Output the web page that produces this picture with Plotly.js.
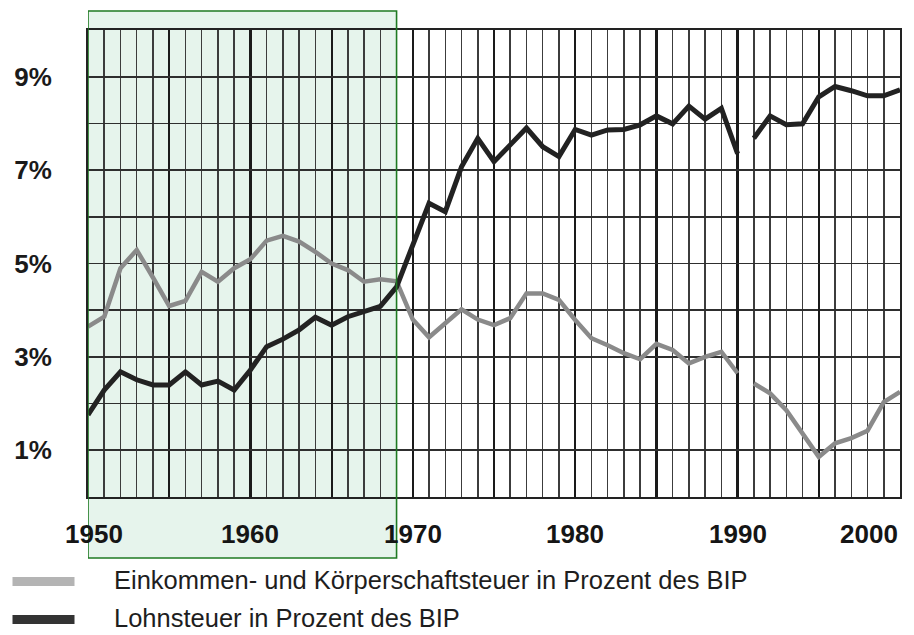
<!DOCTYPE html>
<html>
<head>
<meta charset="utf-8">
<script src="https://cdn.plot.ly/plotly-3.0.1.min.js"></script>
<style>
  html, body { margin: 0; padding: 0; background: #ffffff; }
  #chart { width: 914px; height: 635px; }
</style>
</head>
<body>
<div id="chart"></div>
<script>
// ---- data ----
const yearsWest = [1950,1951,1952,1953,1954,1955,1956,1957,1958,1959,
                   1960,1961,1962,1963,1964,1965,1966,1967,1968,1969,
                   1970,1971,1972,1973,1974,1975,1976,1977,1978,1979,
                   1980,1981,1982,1983,1984,1985,1986,1987,1988,1989,1990];
const yearsUnified = [1991,1992,1993,1994,1995,1996,1997,1998,1999,2000];

// Einkommen- und Körperschaftsteuer in % des BIP
const einkWest = [3.65,3.86,4.90,5.29,4.70,4.09,4.20,4.82,4.61,4.90,
                  5.09,5.49,5.59,5.47,5.25,5.00,4.86,4.61,4.66,4.62,
                  3.80,3.42,3.72,4.02,3.80,3.68,3.83,4.36,4.36,4.22,
                  3.79,3.40,3.25,3.08,2.95,3.28,3.15,2.86,3.00,3.11,2.65];
const einkUnified = [2.43,2.22,1.86,1.36,0.86,1.15,1.26,1.42,2.03,2.25];

// Lohnsteuer in % des BIP
const lohnWest = [1.76,2.29,2.68,2.51,2.40,2.40,2.68,2.40,2.48,2.29,
                  2.72,3.22,3.38,3.58,3.85,3.68,3.86,3.97,4.08,4.50,
                  5.42,6.29,6.11,7.07,7.68,7.18,7.54,7.90,7.50,7.29,
                  7.87,7.75,7.86,7.87,7.97,8.16,7.99,8.37,8.09,8.32,7.35];
const lohnUnified = [7.68,8.16,7.97,7.99,8.57,8.79,8.70,8.59,8.59,8.72];

const seriesNames = ['Einkommen- und Körperschaftsteuer in Prozent des BIP',
                     'Lohnsteuer in Prozent des BIP'];
const xTickYears = [1950,1960,1970,1980,1990,2000];
const xTickLabels = ['1950','1960','1970','1980','1990','2000'];
const yTickValues = [1,3,5,7,9];
const yTickLabels = ['1%','3%','5%','7%','9%'];
const highlightStart = 1950, highlightEnd = 1969;

// ---- styles ----
const greyLine = '#8a8a8a', darkLine = '#222222';
const greySwatch = '#b4b4b4', darkSwatch = '#333333';
const FONT = 'Liberation Sans, Arial, sans-serif';

const traces = [
  {x: yearsWest, y: einkWest, name: seriesNames[0], legendgroup: 'eink', showlegend: false,
   mode: 'lines', line: {color: greyLine, width: 4.5}},
  {x: yearsUnified, y: einkUnified, name: seriesNames[0], legendgroup: 'eink', showlegend: false,
   mode: 'lines', line: {color: greyLine, width: 4.5}},
  {x: yearsWest, y: lohnWest, name: seriesNames[1], legendgroup: 'lohn', showlegend: false,
   mode: 'lines', line: {color: darkLine, width: 5}},
  {x: yearsUnified, y: lohnUnified, name: seriesNames[1], legendgroup: 'lohn', showlegend: false,
   mode: 'lines', line: {color: darkLine, width: 5}}
];

// plot area geometry (px) used to place items outside the plot in paper units
const M = {l: 88, r: 14, t: 30, b: 138};
const W = 914, H = 635;
const pw = W - M.l - M.r, ph = H - M.t - M.b;
const pxToPaperX = px => (px - M.l) / pw;
const pxToPaperY = py => (H - M.b - py) / ph;

const annotations = xTickYears.map((yr, i) => ({
  x: yr, xref: 'x', y: 0, yref: 'paper', yshift: -37,
  xshift: i === 0 ? 6 : 0,
  text: xTickLabels[i], showarrow: false,
  xanchor: i === xTickYears.length - 1 ? 'right' : 'center', yanchor: 'middle',
  font: {family: FONT, size: 26, color: '#151515', weight: 'bold'}
}));

const legendRowsPx = [580, 618];
const swatchColors = [greySwatch, darkSwatch];
const shapes = [
  {type: 'rect', layer: 'below', xref: 'x', yref: 'paper',
   x0: highlightStart, x1: highlightEnd, y0: pxToPaperY(558), y1: pxToPaperY(11),
   fillcolor: '#e6f4ec', line: {width: 0}},
  {type: 'rect', layer: 'above', xref: 'x', yref: 'paper',
   x0: highlightStart, x1: highlightEnd, y0: pxToPaperY(558), y1: pxToPaperY(11),
   fillcolor: 'rgba(0,0,0,0)', line: {color: '#1f7a22', width: 1.6}}
];
legendRowsPx.forEach((py, i) => {
  shapes.push({type: 'rect', xref: 'paper', yref: 'paper', layer: 'above',
    x0: pxToPaperX(12.5), x1: pxToPaperX(74.5),
    y0: pxToPaperY(py + 1.5 + 4.5), y1: pxToPaperY(py + 1.5 - 4.5),
    fillcolor: swatchColors[i], line: {width: 0}});
  annotations.push({x: pxToPaperX(112), xref: 'paper', y: pxToPaperY(py), yref: 'paper',
    text: seriesNames[i], showarrow: false, xanchor: 'left', yanchor: 'middle',
    font: {family: FONT, size: 25.5, color: '#1e1e1e'}});
});

const layout = {
  width: W, height: H,
  margin: M,
  paper_bgcolor: '#ffffff',
  plot_bgcolor: 'rgba(0,0,0,0)',
  showlegend: false,
  xaxis: {
    range: [1950, 2000], tickmode: 'linear', tick0: 1950, dtick: 5,
    showticklabels: false, ticks: '',
    showgrid: true, gridcolor: '#1a1a1a', gridwidth: 2.2,
    minor: {tickmode: 'linear', tick0: 1950, dtick: 1, showgrid: true, gridcolor: '#3c3c3c', gridwidth: 1.5, ticks: ''},
    showline: true, mirror: true, linecolor: '#222', linewidth: 2,
    zeroline: false, fixedrange: true
  },
  yaxis: {
    range: [0, 10], tickmode: 'array', tickvals: yTickValues, ticktext: yTickLabels,
    ticks: '', ticklabelstandoff: 29,
    tickfont: {family: FONT, size: 26, color: '#1a1a1a', weight: 'bold'},
    showgrid: true, gridcolor: '#2e2e2e', gridwidth: 1.7,
    minor: {tickmode: 'linear', tick0: 0, dtick: 1, showgrid: true, gridcolor: '#2e2e2e', gridwidth: 1.7, ticks: ''},
    showline: true, mirror: true, linecolor: '#222', linewidth: 2,
    zeroline: false, fixedrange: true
  },
  shapes: shapes,
  annotations: annotations
};

Plotly.newPlot('chart', traces, layout, {displayModeBar: false, staticPlot: true});
</script>
</body>
</html>
